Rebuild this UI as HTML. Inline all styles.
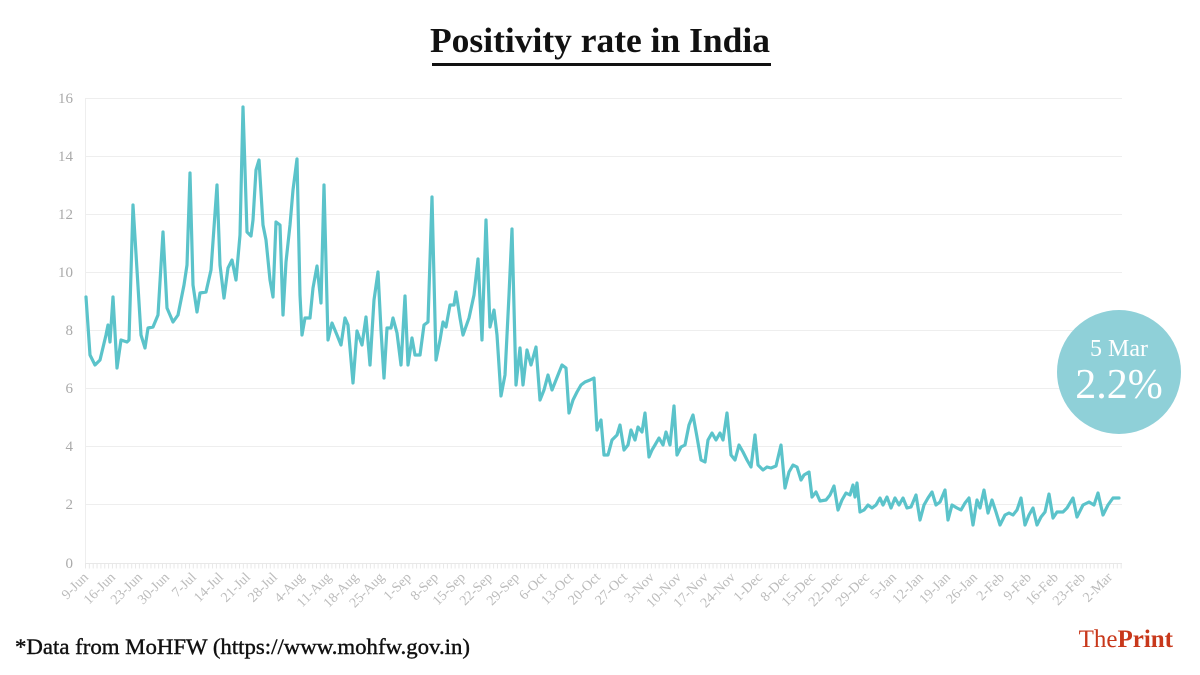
<!DOCTYPE html>
<html><head><meta charset="utf-8"><style>
html,body{margin:0;padding:0;background:#fff;}
svg{display:block;}
</style></head><body>
<svg width="1200" height="675" xmlns="http://www.w3.org/2000/svg">
<rect width="1200" height="675" fill="#fff"/>
<text x="600" y="52" text-anchor="middle" font-family="Liberation Serif, serif" font-weight="bold" font-size="35" textLength="340" lengthAdjust="spacingAndGlyphs" fill="#111">Positivity rate in India</text>
<rect x="432" y="63" width="339" height="3" fill="#111"/>
<g stroke="#eeeeee" stroke-width="1">
<line x1="85" y1="98.5" x2="1122" y2="98.5"/>
<line x1="85" y1="156.5" x2="1122" y2="156.5"/>
<line x1="85" y1="214.5" x2="1122" y2="214.5"/>
<line x1="85" y1="272.5" x2="1122" y2="272.5"/>
<line x1="85" y1="330.5" x2="1122" y2="330.5"/>
<line x1="85" y1="388.5" x2="1122" y2="388.5"/>
<line x1="85" y1="446.5" x2="1122" y2="446.5"/>
<line x1="85" y1="504.5" x2="1122" y2="504.5"/>
<line x1="85.5" y1="98" x2="85.5" y2="563"/>
</g>
<line x1="85" y1="563.5" x2="1122" y2="563.5" stroke="#e8e8e8" stroke-width="1"/>
<line x1="85" y1="566" x2="1122" y2="566" stroke="#e8e8e8" stroke-width="5" stroke-dasharray="1 2.85"/>
<g font-family="Liberation Serif, serif" font-size="15" fill="#aaa" text-anchor="end">
<text x="73" y="103">16</text><text x="73" y="161">14</text><text x="73" y="219">12</text><text x="73" y="277">10</text>
<text x="73" y="335">8</text><text x="73" y="393">6</text><text x="73" y="451">4</text><text x="73" y="509">2</text><text x="73" y="568">0</text>
</g>
<g font-family="Liberation Serif, serif" font-size="14" fill="#bbb" text-anchor="end">
<text transform="translate(89,578) rotate(-45)">9-Jun</text>
<text transform="translate(116,578) rotate(-45)">16-Jun</text>
<text transform="translate(143,578) rotate(-45)">23-Jun</text>
<text transform="translate(170,578) rotate(-45)">30-Jun</text>
<text transform="translate(197,578) rotate(-45)">7-Jul</text>
<text transform="translate(224,578) rotate(-45)">14-Jul</text>
<text transform="translate(251,578) rotate(-45)">21-Jul</text>
<text transform="translate(278,578) rotate(-45)">28-Jul</text>
<text transform="translate(305,578) rotate(-45)">4-Aug</text>
<text transform="translate(332,578) rotate(-45)">11-Aug</text>
<text transform="translate(359,578) rotate(-45)">18-Aug</text>
<text transform="translate(385,578) rotate(-45)">25-Aug</text>
<text transform="translate(412,578) rotate(-45)">1-Sep</text>
<text transform="translate(439,578) rotate(-45)">8-Sep</text>
<text transform="translate(466,578) rotate(-45)">15-Sep</text>
<text transform="translate(493,578) rotate(-45)">22-Sep</text>
<text transform="translate(520,578) rotate(-45)">29-Sep</text>
<text transform="translate(547,578) rotate(-45)">6-Oct</text>
<text transform="translate(574,578) rotate(-45)">13-Oct</text>
<text transform="translate(601,578) rotate(-45)">20-Oct</text>
<text transform="translate(628,578) rotate(-45)">27-Oct</text>
<text transform="translate(655,578) rotate(-45)">3-Nov</text>
<text transform="translate(682,578) rotate(-45)">10-Nov</text>
<text transform="translate(709,578) rotate(-45)">17-Nov</text>
<text transform="translate(736,578) rotate(-45)">24-Nov</text>
<text transform="translate(763,578) rotate(-45)">1-Dec</text>
<text transform="translate(790,578) rotate(-45)">8-Dec</text>
<text transform="translate(816,578) rotate(-45)">15-Dec</text>
<text transform="translate(843,578) rotate(-45)">22-Dec</text>
<text transform="translate(870,578) rotate(-45)">29-Dec</text>
<text transform="translate(897,578) rotate(-45)">5-Jan</text>
<text transform="translate(924,578) rotate(-45)">12-Jan</text>
<text transform="translate(951,578) rotate(-45)">19-Jan</text>
<text transform="translate(978,578) rotate(-45)">26-Jan</text>
<text transform="translate(1005,578) rotate(-45)">2-Feb</text>
<text transform="translate(1032,578) rotate(-45)">9-Feb</text>
<text transform="translate(1059,578) rotate(-45)">16-Feb</text>
<text transform="translate(1086,578) rotate(-45)">23-Feb</text>
<text transform="translate(1113,578) rotate(-45)">2-Mar</text>
</g>
<polyline fill="none" stroke="#5bc3ca" stroke-width="3.2" stroke-linejoin="round" stroke-linecap="round" points="86,297 90,355 95,365 100,360 106,335 108,325 110,342 113,297 117,368 121,340 127,342 129,340 133,205 137,270 141,335 145,348 148,328 153,327 158,315 163,232 167,308 173,322 178,315 184,285 187,265 190,173 193,285 197,312 200,293 206,292 211,270 217,185 220,265 224,298 228,268 232,260 236,280 240,235 243,107 247,232 251,236 253,220 256,170 259,160 263,225 266,240 270,280 273,297 276,222 280,225 283,315 286,262 290,225 293,190 297,159 300,295 302,335 305,318 310,318 313,288 317,266 321,303 324,185 328,340 332,323 337,335 341,345 345,318 348,325 353,383 357,331 362,345 366,317 370,365 374,300 378,272 381,330 384,378 387,328 391,328 393,318 397,333 401,365 405,296 408,365 412,338 415,355 420,355 424,325 428,322 432,197 436,360 440,340 443,322 446,327 450,305 454,305 456,292 460,318 463,335 469,318 474,295 478,259 482,340 486,220 490,327 494,310 497,335 501,396 505,375 509,295 512,229 516,385 520,348 523,385 527,350 531,365 536,347 540,400 544,390 548,375 552,390 558,375 562,365 566,368 569,413 573,400 577,392 581,385 585,382 590,380 594,378 597,430 601,420 604,455 608,455 612,440 617,435 620,425 624,450 628,445 631,430 635,440 638,427 642,432 645,413 649,457 652,450 655,445 659,438 663,445 666,432 670,445 674,406 677,455 681,447 685,445 689,425 693,415 697,437 701,460 705,462 708,440 712,433 716,440 720,433 723,440 727,413 731,455 735,460 739,445 743,452 747,460 751,467 755,435 758,465 763,470 767,467 771,468 776,466 781,445 785,488 789,472 793,465 797,467 801,480 804,475 809,472 812,497 816,492 820,501 826,500 830,495 834,486 838,510 842,500 846,493 850,495 853,485 855,497 857,483 860,512 864,510 868,505 872,508 876,505 880,498 883,505 887,497 891,508 895,498 899,505 903,498 907,508 911,507 916,495 920,520 924,505 928,498 932,492 936,505 940,502 945,490 948,520 952,505 957,508 961,510 965,503 969,498 973,525 977,500 980,508 984,490 988,513 992,500 996,512 1000,525 1005,515 1009,513 1013,515 1017,510 1021,498 1025,525 1029,515 1033,508 1037,525 1041,517 1045,512 1049,494 1053,518 1057,512 1063,512 1067,508 1073,498 1077,517 1083,505 1089,502 1094,505 1098,493 1103,515 1108,505 1113,498 1119,498"/>
<circle cx="1119" cy="372" r="62" fill="#8fd0d8"/>
<text x="1119" y="356" text-anchor="middle" font-family="Liberation Serif, serif" font-size="24" fill="#fff">5 Mar</text>
<text x="1119" y="398" text-anchor="middle" font-family="Liberation Serif, serif" font-size="42" fill="#fff">2.2%</text>
<text x="15" y="654" font-family="Liberation Serif, serif" font-size="22" textLength="455" lengthAdjust="spacingAndGlyphs" fill="#111" stroke="#111" stroke-width="0.4">*Data from MoHFW (https://www.mohfw.gov.in)</text>
<text x="1173" y="647" text-anchor="end" font-family="Liberation Serif, serif" font-size="25" fill="#c8381b">The<tspan font-weight="bold">Print</tspan></text>
</svg>
</body></html>
